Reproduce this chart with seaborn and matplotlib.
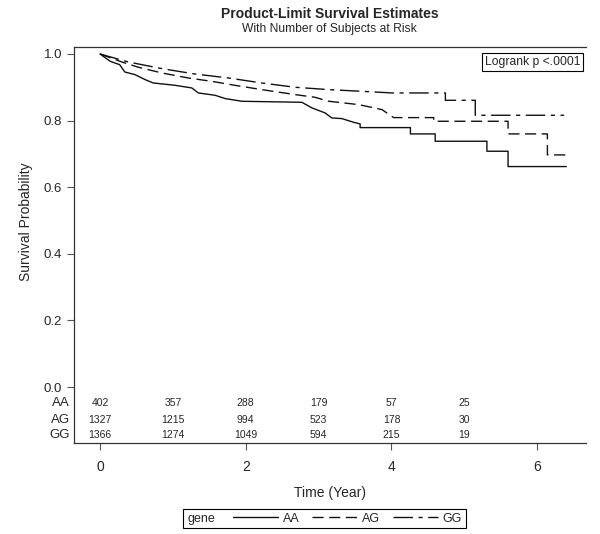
import pandas as pd
import seaborn as sns
import matplotlib.pyplot as plt
import matplotlib.transforms as mtransforms
from matplotlib.patches import Rectangle

# Kaplan-Meier curves (time in years, survival);
# a repeated time marks a vertical drop
aa_time = [0, 0.14, 0.27, 0.34, 0.48, 0.62, 0.73, 1.03, 1.26, 1.35, 1.58, 1.72, 1.95, 2.77, 2.91,
           3.09, 3.18, 3.32, 3.48, 3.57, 3.57, 4.26, 4.26, 4.60, 4.60, 5.31, 5.31, 5.60, 5.60, 6.40]
aa_surv = [1.0, 0.978, 0.968, 0.946, 0.938, 0.923, 0.913, 0.906, 0.898, 0.883, 0.876, 0.866, 0.858, 0.855, 0.838,
           0.823, 0.808, 0.806, 0.795, 0.790, 0.779, 0.779, 0.760, 0.760, 0.738, 0.738, 0.708, 0.708, 0.662, 0.662]

ag_time = [0, 0.30, 0.53, 0.85, 1.21, 1.53, 1.85, 2.22, 2.68, 2.95, 3.14, 3.55, 3.87, 4.03,
           4.58, 4.58, 5.60, 5.60, 6.14, 6.14, 6.43]
ag_surv = [1.0, 0.976, 0.960, 0.943, 0.928, 0.918, 0.906, 0.893, 0.878, 0.870, 0.858, 0.848, 0.833, 0.809,
           0.809, 0.798, 0.798, 0.760, 0.760, 0.697, 0.697]

gg_time = [0, 0.39, 0.85, 1.30, 1.76, 2.22, 2.68, 3.14, 3.59, 4.01, 4.74, 4.74, 5.15, 5.15, 6.37]
gg_surv = [1.0, 0.976, 0.956, 0.940, 0.928, 0.913, 0.900, 0.893, 0.888, 0.883, 0.883, 0.861, 0.861, 0.816, 0.816]

genes = ['AA', 'AG', 'GG']
risk_times = [0, 1, 2, 3, 4, 5]
risk_aa = [402, 357, 288, 179, 57, 25]
risk_ag = [1327, 1215, 994, 523, 178, 30]
risk_gg = [1366, 1274, 1049, 594, 215, 19]

df = pd.concat([
    pd.DataFrame({'time': aa_time, 'surv': aa_surv, 'gene': 'AA'}),
    pd.DataFrame({'time': ag_time, 'surv': ag_surv, 'gene': 'AG'}),
    pd.DataFrame({'time': gg_time, 'surv': gg_surv, 'gene': 'GG'}),
], ignore_index=True)

sns.set_style('white')
plt.rcParams['font.family'] = ['Liberation Sans', 'DejaVu Sans']

fig = plt.figure(figsize=(6, 5.34), dpi=100)
ax = fig.add_axes([0.1233, 0.1704, 0.8534, 0.7416])

sns.lineplot(data=df, x='time', y='surv', style='gene', style_order=genes,
             dashes={'AA': '', 'AG': (8, 4), 'GG': (14, 4, 3, 4)},
             color='#111111', lw=1.0, estimator=None, sort=False, ax=ax)

# number at risk table inside the axes, below zero
row_y = [-0.048, -0.099, -0.144]
trans = mtransforms.blended_transform_factory(ax.transAxes, ax.transData)
for g, y, counts in zip(genes, row_y, [risk_aa, risk_ag, risk_gg]):
    ax.text(-0.008, y, g, transform=trans, ha='right', va='center', fontsize=9.5)
    for t, n in zip(risk_times, counts):
        ax.text(t, y, str(n), ha='center', va='center', fontsize=7.5)

ax.set_xlim(-0.357, 6.67)
ax.set_ylim(-0.168, 1.021)
ax.set_xticks([0, 2, 4, 6])
ax.set_yticks([0, 0.2, 0.4, 0.6, 0.8, 1.0])
ax.set_yticklabels(['0.0', '0.2', '0.4', '0.6', '0.8', '1.0'])
ax.tick_params(axis='both', direction='out', length=5, width=0.8, color='#555555',
               labelsize=9.5, left=True, bottom=True)
ax.tick_params(axis='x', pad=7, labelsize=10)
for s in ['left', 'top', 'bottom']:
    ax.spines[s].set_color('#333333')
    ax.spines[s].set_linewidth(0.9)
ax.spines['right'].set_visible(False)

ax.set_xlabel('Time (Year)', fontsize=10, labelpad=9)
ax.set_ylabel('Survival Probability', fontsize=10)
ax.yaxis.set_label_coords(-0.08, 0.56)

ax.text(0.989, 0.978, 'Logrank p <.0001', transform=ax.transAxes, ha='right', va='top',
        fontsize=8.7, bbox=dict(boxstyle='square,pad=0.25', fc='white', ec='black', lw=0.8))

fig.text(0.549, 0.973, 'Product-Limit Survival Estimates', ha='center', va='center',
         fontsize=10, fontweight='bold')
fig.text(0.549, 0.945, 'With Number of Subjects at Risk', ha='center', va='center', fontsize=8.7)

# legend strip at the bottom: boxed, with the variable name in front
handles, labels = ax.get_legend_handles_labels()
ax.get_legend().remove()
fig.add_artist(Rectangle((0.305, 0.0112), 0.4717, 0.0356, transform=fig.transFigure,
                         fill=False, ec='black', lw=0.8))
fig.text(0.313, 0.029, 'gene', ha='left', va='center', fontsize=9)
fig.legend(handles, labels, loc='center', bbox_to_anchor=(0.579, 0.029), ncol=3, frameon=False,
           fontsize=9, handlelength=3.6, handletextpad=0.4, columnspacing=1.0, borderpad=0.2)

fig.savefig('out.png', dpi=100)
